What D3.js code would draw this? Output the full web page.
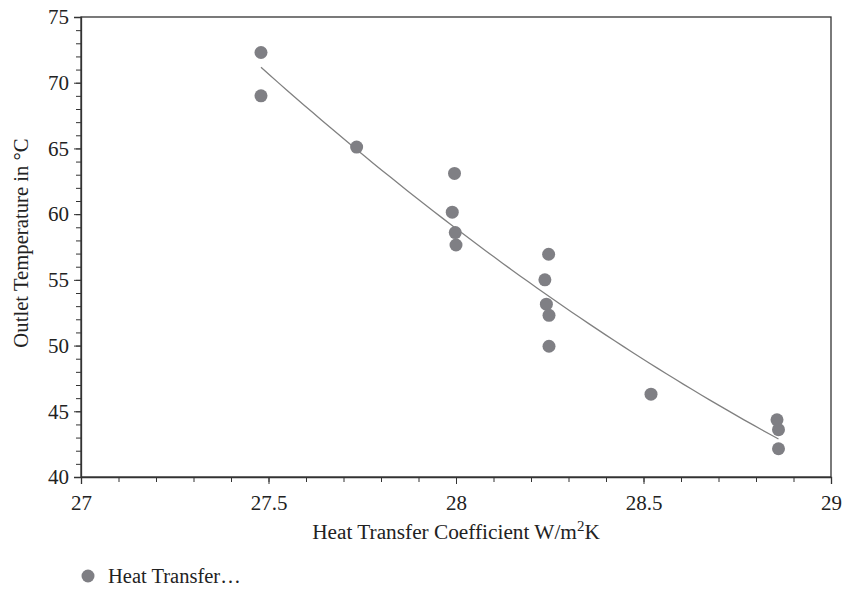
<!DOCTYPE html>
<html>
<head>
<meta charset="utf-8">
<script src="https://cdn.jsdelivr.net/npm/d3@7"></script>
<style>
  body { margin: 0; background: #fff; }
  text { font-family: "Liberation Serif", "DejaVu Serif", serif; fill: #222; }
</style>
</head>
<body>
<div id="chart"></div>
<script>
// heat transfer coefficient (W/m2K) vs outlet temperature (°C)
const heatCoef = [27.48, 27.48, 27.735, 27.996, 27.99, 27.998, 28.0, 28.247, 28.237, 28.241, 28.248, 28.248, 28.52, 28.856, 28.86, 28.86];
const outletTemp = [72.3, 69.0, 65.1, 63.1, 60.15, 58.6, 57.65, 56.95, 55.0, 53.15, 52.3, 49.95, 46.3, 44.35, 43.6, 42.15];
const xTicks = [27, 27.5, 28, 28.5, 29];
const yTicks = [40, 45, 50, 55, 60, 65, 70, 75];
const seriesName = "Heat Transfer…";

const width = 842, height = 590;
const margin = { top: 17, right: 11, bottom: 113, left: 81 };

const svg = d3.select("#chart").append("svg")
    .attr("width", width)
    .attr("height", height);

const x = d3.scaleLinear().domain([27, 29]).range([margin.left, width - margin.right]);
const y = d3.scaleLinear().domain([40, 75]).range([height - margin.bottom, margin.top]);

// frame
svg.append("rect")
    .attr("x", x(27)).attr("y", y(75))
    .attr("width", x(29) - x(27)).attr("height", y(40) - y(75))
    .attr("fill", "none").attr("stroke", "#333").attr("stroke-width", 1.3);

// minor ticks
const xMinor = d3.range(27, 29.001, 0.1).map(d => +d.toFixed(1));
const yMinor = d3.range(40, 75.001, 1);

svg.append("g")
    .attr("transform", `translate(0,${y(40)})`)
    .call(d3.axisBottom(x).tickValues(xMinor).tickSize(5).tickFormat(""))
    .call(g => g.select(".domain").remove())
    .call(g => g.selectAll("line").attr("stroke", "#333"));

svg.append("g")
    .attr("transform", `translate(${x(27)},0)`)
    .call(d3.axisLeft(y).tickValues(yMinor).tickSize(5).tickFormat(""))
    .call(g => g.select(".domain").remove())
    .call(g => g.selectAll("line").attr("stroke", "#333"));

// major ticks + labels
svg.append("g")
    .attr("transform", `translate(0,${y(40)})`)
    .call(d3.axisBottom(x).tickValues(xTicks).tickSize(7).tickPadding(11).tickFormat(d3.format("")))
    .call(g => g.select(".domain").attr("stroke", "#333").attr("stroke-width", 1.3))
    .call(g => g.selectAll("line").attr("stroke", "#333"))
    .call(g => g.selectAll("text").attr("font-size", 21).attr("fill", "#222"));

svg.append("g")
    .attr("transform", `translate(${x(27)},0)`)
    .call(d3.axisLeft(y).tickValues(yTicks).tickSize(7).tickPadding(5).tickFormat(d3.format("")))
    .call(g => g.select(".domain").attr("stroke", "#333").attr("stroke-width", 1.3))
    .call(g => g.selectAll("line").attr("stroke", "#333"))
    .call(g => g.selectAll("text").attr("font-size", 21).attr("fill", "#222"));

// quadratic least squares trend line
function polyFit2(xs, ys) {
    const x0 = d3.mean(xs);
    let s = [0, 0, 0, 0, 0], t = [0, 0, 0];
    xs.forEach((xv, i) => {
        const u = xv - x0;
        for (let k = 0; k < 5; k++) s[k] += Math.pow(u, k);
        for (let k = 0; k < 3; k++) t[k] += ys[i] * Math.pow(u, k);
    });
    const A = [[s[0], s[1], s[2], t[0]], [s[1], s[2], s[3], t[1]], [s[2], s[3], s[4], t[2]]];
    for (let c = 0; c < 3; c++) {
        for (let r = c + 1; r < 3; r++) {
            const f = A[r][c] / A[c][c];
            for (let k = c; k < 4; k++) A[r][k] -= f * A[c][k];
        }
    }
    const b = [0, 0, 0];
    for (let r = 2; r >= 0; r--) {
        let v = A[r][3];
        for (let k = r + 1; k < 3; k++) v -= A[r][k] * b[k];
        b[r] = v / A[r][r];
    }
    return xv => b[0] + b[1] * (xv - x0) + b[2] * (xv - x0) * (xv - x0);
}
const fit = polyFit2(heatCoef, outletTemp);
const xMin = d3.min(heatCoef), xMax = d3.max(heatCoef);
const trend = d3.range(0, 61).map(i => xMin + (xMax - xMin) * i / 60);

svg.append("path")
    .datum(trend)
    .attr("fill", "none")
    .attr("stroke", "#808080")
    .attr("stroke-width", 1.3)
    .attr("d", d3.line().x(d => x(d)).y(d => y(fit(d))));

// points
svg.append("g").selectAll("circle")
    .data(heatCoef.map((d, i) => [d, outletTemp[i]]))
    .enter().append("circle")
    .attr("cx", d => x(d[0]))
    .attr("cy", d => y(d[1]))
    .attr("r", 6.5)
    .attr("fill", "#7f7f84");

// axis titles
svg.append("text")
    .attr("x", (x(27) + x(29)) / 2)
    .attr("y", 539)
    .attr("text-anchor", "middle")
    .attr("font-size", 21.3)
    .html('Heat Transfer Coefficient W/m<tspan dy="-8" font-size="15">2</tspan><tspan dy="8">K</tspan>');

svg.append("text")
    .attr("transform", "translate(28,243) rotate(-90)")
    .attr("text-anchor", "middle")
    .attr("font-size", 20.7)
    .text("Outlet Temperature in °C");

// legend
const legend = svg.append("g").attr("transform", "translate(88,576)");
legend.append("circle").attr("r", 6.5).attr("fill", "#7f7f84");
legend.append("text").attr("x", 20).attr("y", 6.5).attr("font-size", 20.5).text(seriesName);
</script>
</body>
</html>
